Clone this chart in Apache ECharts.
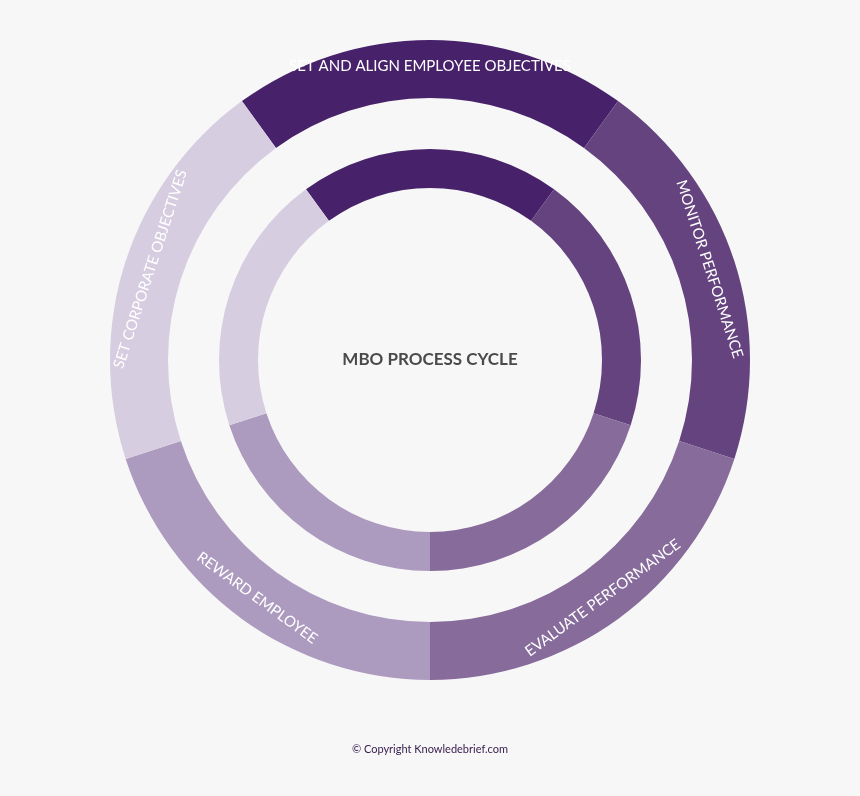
<!DOCTYPE html>
<html>
<head>
<meta charset="utf-8">
<script src="https://cdn.jsdelivr.net/npm/echarts@6/dist/echarts.min.js"></script>
<style>
  html, body { margin: 0; padding: 0; background: #f7f7f7; }
  #chart { width: 860px; height: 796px; }
</style>
</head>
<body>
<div id="chart"></div>
<script>
// cycle stages, clockwise from the top
const stages = ['SET AND ALIGN EMPLOYEE OBJECTIVES', 'MONITOR PERFORMANCE', 'EVALUATE PERFORMANCE', 'REWARD EMPLOYEE', 'SET CORPORATE OBJECTIVES'];
const shares = [1, 1, 1, 1, 1];
const colors = ['#47226a', '#65437e', '#876b9b', '#ad9bbf', '#d6cde0'];
const centerTitle = 'MBO PROCESS CYCLE';
const footer = '© Copyright Knowledebrief.com';

const chart = echarts.init(document.getElementById('chart'));

const ringData = (withLabels) => stages.map((name, i) => ({
  name,
  value: shares[i],
  itemStyle: { color: colors[i] },
  label: { show: withLabels }
}));

chart.setOption({
  backgroundColor: '#f7f7f7',
  animation: false,
  series: [
    {
      type: 'pie',
      center: [430, 360],
      radius: [262, 320],
      startAngle: 126,
      clockwise: true,
      silent: true,
      label: {
        position: 'inside',
        rotate: 'tangential',
        color: '#ffffff',
        fontFamily: 'Lato',
        fontSize: 15,
        formatter: '{b}'
      },
      labelLine: { show: false },
      data: ringData(true)
    },
    {
      type: 'pie',
      center: [430, 360],
      radius: [172, 211],
      startAngle: 126,
      clockwise: true,
      silent: true,
      label: { show: false },
      labelLine: { show: false },
      data: ringData(false)
    }
  ],
  graphic: [
    {
      type: 'text',
      left: 'center',
      top: 351,
      style: {
        text: centerTitle,
        fill: '#4a4a4a',
        font: 'bold 17px Lato',
        textAlign: 'center'
      }
    },
    {
      type: 'text',
      left: 'center',
      top: 744,
      style: {
        text: footer,
        fill: '#3a2050',
        font: '11px Lato'
      }
    }
  ]
});
</script>
</body>
</html>
